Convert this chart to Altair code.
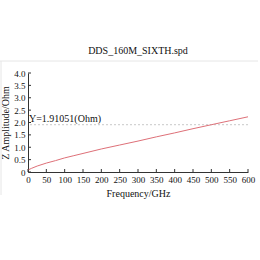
import altair as alt
import pandas as pd

freq = [0, 10, 25, 50, 75, 100, 125, 150, 200, 250, 300, 350, 400, 450, 500, 550, 600]
z_amp = [0.08, 0.15, 0.24, 0.36, 0.46, 0.57, 0.66, 0.75, 0.93, 1.09, 1.25, 1.42, 1.58, 1.75, 1.91, 2.07, 2.23]
marker_y = [1.91051]
marker_label = ["Y=1.91051(Ohm)"]
y_ticks = [0, 0.5, 1.0, 1.5, 2.0, 2.5, 3.0, 3.5, 4.0]
x_ticks = [0, 50, 100, 150, 200, 250, 300, 350, 400, 450, 500, 550, 600]

FONT = "Liberation Serif"
W, H = 220, 99

df = pd.DataFrame({"freq": freq, "z": z_amp})
dm = pd.DataFrame({"y": marker_y, "label": marker_label})
dyt = pd.DataFrame({"y": y_ticks})
dxt = pd.DataFrame({"x": x_ticks})

xs = alt.Scale(domain=[0, 600], nice=False)
ys = alt.Scale(domain=[0, 4], nice=False)

xaxis = alt.Axis(values=x_ticks, ticks=False, labelPadding=3, titlePadding=4,
                 labelFlush=False, labelOverlap=False, labelBound=False)
yaxis = alt.Axis(values=y_ticks, ticks=False, labelPadding=3, titlePadding=3,
                 labelOverlap=False, labelFlush=False,
                 labelExpr="datum.value == 0 ? '0' : format(datum.value, '.1f')")
XT = "Frequency/GHz"
YT = "Z Amplitude/Ohm"

line = alt.Chart(df).mark_line(color="#de7078", strokeWidth=1).encode(
    x=alt.X("freq:Q", scale=xs, title=XT, axis=xaxis),
    y=alt.Y("z:Q", scale=ys, title=YT, axis=yaxis),
)

rule = alt.Chart(dm).mark_rule(color="#c8c8c8", strokeDash=[2, 2], strokeWidth=1).encode(
    y=alt.Y("y:Q", scale=ys, title=YT, axis=yaxis)
)
label = alt.Chart(dm).mark_text(align="left", baseline="bottom", dy=-1, dx=1,
                                font=FONT, fontSize=10, color="#111").encode(
    x=alt.value(0), y=alt.Y("y:Q", scale=ys, title=YT, axis=yaxis), text="label:N"
)
ytk = alt.Chart(dyt).mark_rule(color="#333", strokeWidth=1).encode(
    y=alt.Y("y:Q", scale=ys, title=YT, axis=yaxis), x=alt.value(0), x2=alt.value(3)
)
xtk = alt.Chart(dxt).mark_rule(color="#333", strokeWidth=1).encode(
    x=alt.X("x:Q", scale=xs, title=XT, axis=xaxis), y=alt.value(H), y2=alt.value(H - 3)
)
# faint window frame (top and left edges)
frame_top = alt.Chart(dm).mark_rule(color="#e6e6e6", strokeWidth=1).encode(
    x=alt.value(-28), x2=alt.value(W + 10), y=alt.value(-12)
)
frame_left = alt.Chart(dm).mark_rule(color="#e6e6e6", strokeWidth=1).encode(
    x=alt.value(-27), y=alt.value(-12), y2=alt.value(H + 23)
)

chart = alt.layer(frame_top, frame_left, rule, line, label, ytk, xtk).properties(
    width=W, height=H,
    title=alt.TitleParams("DDS_160M_SIXTH.spd", font=FONT, fontSize=10,
                          fontWeight="normal", color="#111", offset=5, anchor="middle"),
    autosize=alt.AutoSizeParams(type="none"),
    padding={"left": 28, "top": 73, "right": 12, "bottom": 88},
    background="white",
).configure_view(stroke=None).configure_axis(
    grid=False, domainColor="#333", labelFont=FONT, titleFont=FONT,
    labelFontSize=9, titleFontSize=10, labelColor="#111", titleColor="#111",
    titleFontWeight="normal",
)

chart.save("out.html", embed_options={"renderer": "svg", "actions": False})
